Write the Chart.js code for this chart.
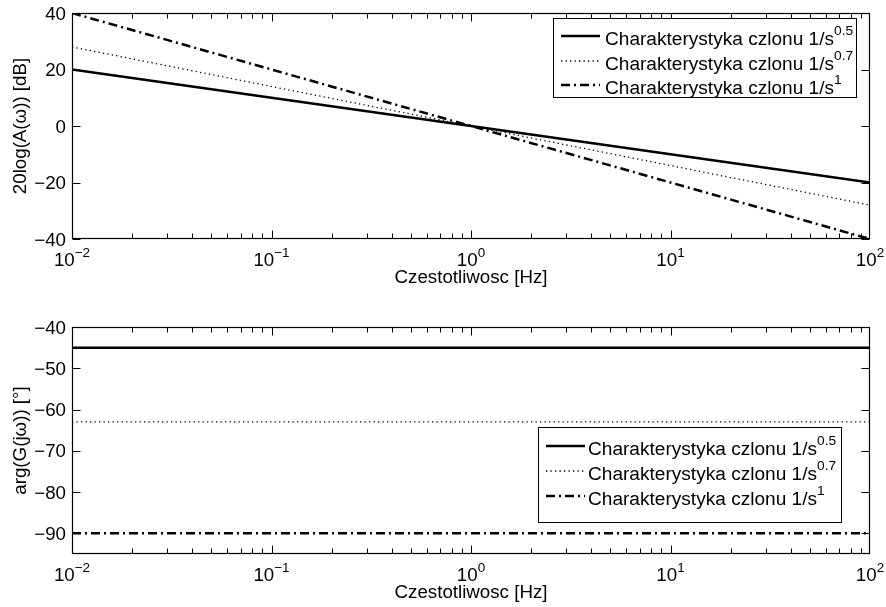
<!DOCTYPE html>
<html>
<head>
<meta charset="utf-8">
<script src="https://cdn.jsdelivr.net/npm/chart.js@4/dist/chart.umd.min.js"></script>
<style>
  html, body { margin: 0; padding: 0; background: #ffffff; }
  #wrap { position: relative; width: 886px; height: 607px; }
  canvas { position: absolute; left: 0; top: 0; }
</style>
</head>
<body>
<div id="wrap">
  <canvas id="c1" width="886" height="607"></canvas>
  <canvas id="c2" width="886" height="607"></canvas>
</div>
<script>
// ---------- data ----------
const freq = [0.01, 0.1, 1, 10, 100];
const mag05 = [20, 10, 0, -10, -20];
const mag07 = [28, 14, 0, -14, -28];
const mag1 = [40, 20, 0, -20, -40];
const phase05 = [-45, -45, -45, -45, -45];
const phase07 = [-63, -63, -63, -63, -63];
const phase1 = [-90, -90, -90, -90, -90];
const xTickValues = [0.01, 0.1, 1, 10, 100];
const xTickBase = ['10', '10', '10', '10', '10'];
const xTickExp = ['\u22122', '\u22121', '0', '1', '2'];
const magTicks = [-40, -20, 0, 20, 40];
const phaseTicks = [-90, -80, -70, -60, -50, -40];
const seriesBase = ['Charakterystyka czlonu 1/s', 'Charakterystyka czlonu 1/s', 'Charakterystyka czlonu 1/s'];
const seriesExp = ['0.5', '0.7', '1'];
const xAxisTitle = 'Czestotliwosc [Hz]';
const magTitle = '20log(A(\u03c9)) [dB]';
const phaseTitle = 'arg(G(j\u03c9)) [\u00b0]';

// ---------- styles ----------
const FONT = '"Liberation Sans", Arial, Helvetica, sans-serif';
const FS = 18;
const SUPFS = 13;
const SX = 1.04;
const styles = [
  { borderWidth: 2.5, borderDash: [] },
  { borderWidth: 1.3, borderDash: [1.3, 3.2] },
  { borderWidth: 2.5, borderDash: [9, 4, 2, 4] }
];

function fmtNum(v) { return v < 0 ? '\u2212' + Math.abs(v) : String(v); }

function drawText(ctx, s, x, y, size, align, sx) {
  ctx.save();
  ctx.font = size + 'px ' + FONT;
  ctx.fillStyle = '#000';
  ctx.textBaseline = 'alphabetic';
  ctx.translate(x, y);
  ctx.scale(sx, 1);
  ctx.textAlign = align;
  ctx.fillText(s, 0, 0);
  ctx.restore();
}

function drawSup(ctx, base, sup, x, y, size, supSize, raise, align, sx) {
  ctx.save();
  ctx.font = size + 'px ' + FONT;
  const w1 = ctx.measureText(base).width;
  ctx.font = supSize + 'px ' + FONT;
  const w2 = ctx.measureText(sup).width;
  const total = (w1 + w2) * sx;
  let start = x;
  if (align === 'center') start = x - total / 2;
  else if (align === 'right') start = x - total;
  ctx.fillStyle = '#000';
  ctx.textBaseline = 'alphabetic';
  ctx.textAlign = 'left';
  ctx.translate(start, y);
  ctx.scale(sx, 1);
  ctx.font = size + 'px ' + FONT;
  ctx.fillText(base, 0, 0);
  ctx.font = supSize + 'px ' + FONT;
  ctx.fillText(sup, w1, -raise);
  ctx.restore();
}

function makeAxesPlugin(opts) {
  return {
    id: 'matlabAxes',
    afterDatasetsDraw(chart) {
      const ctx = chart.ctx;
      const a = chart.chartArea;
      const xs = chart.scales.x, ys = chart.scales.y;
      const L = Math.round(a.left) + 0.5, R = Math.round(a.right) - 0.5;
      const T = Math.round(a.top) + 0.5, B = Math.round(a.bottom) - 0.5;
      ctx.save();
      ctx.strokeStyle = '#000';
      ctx.lineWidth = 1;
      ctx.beginPath();
      for (let d = -2; d < 2; d++) {
        for (let m = 1; m <= 9; m++) {
          const v = m * Math.pow(10, d);
          const px = Math.round(xs.getPixelForValue(v)) + 0.5;
          const len = m === 1 ? 8 : 5;
          ctx.moveTo(px, B); ctx.lineTo(px, B - len);
          ctx.moveTo(px, T); ctx.lineTo(px, T + len);
        }
      }
      opts.yTicks.forEach(v => {
        const py = Math.round(ys.getPixelForValue(v)) + 0.5;
        ctx.moveTo(L, py); ctx.lineTo(L + 8, py);
        ctx.moveTo(R, py); ctx.lineTo(R - 8, py);
      });
      ctx.stroke();
      ctx.lineWidth = 1.2;
      ctx.strokeRect(L, T, R - L, B - T);
      ctx.restore();

      opts.yTicks.forEach(v => {
        const py = ys.getPixelForValue(v);
        drawText(ctx, fmtNum(v), 66, py + 6.5, FS, 'right', SX);
      });
      xTickValues.forEach((v, i) => {
        const px = xs.getPixelForValue(v);
        drawSup(ctx, xTickBase[i], xTickExp[i], px, a.bottom + opts.tickDy, FS, SUPFS, 9, 'center', SX);
      });
      drawText(ctx, xAxisTitle, (a.left + a.right) / 2, a.bottom + opts.titleDy, FS, 'center', SX);
      ctx.save();
      ctx.font = FS + 'px ' + FONT;
      ctx.fillStyle = '#000';
      ctx.translate(26, (a.top + a.bottom) / 2);
      ctx.rotate(-Math.PI / 2);
      ctx.scale(SX, 1);
      ctx.textAlign = 'center';
      ctx.textBaseline = 'alphabetic';
      ctx.fillText(opts.yTitle, 0, 0);
      ctx.restore();

      const lg = opts.legend;
      ctx.save();
      ctx.fillStyle = '#fff';
      ctx.fillRect(lg.x, lg.y, lg.w, lg.h);
      ctx.strokeStyle = '#000';
      ctx.lineWidth = 1;
      ctx.strokeRect(lg.x + 0.5, lg.y + 0.5, lg.w, lg.h);
      chart.data.datasets.forEach((ds, i) => {
        const by = lg.baselines[i];
        const ly = by - lg.lineOff;
        ctx.save();
        ctx.strokeStyle = '#000';
        ctx.lineWidth = ds.borderWidth;
        ctx.setLineDash(ds.borderDash || []);
        ctx.beginPath();
        ctx.moveTo(lg.x + 8, ly);
        ctx.lineTo(lg.x + 47, ly);
        ctx.stroke();
        ctx.restore();
        drawSup(ctx, seriesBase[i], seriesExp[i], lg.x + lg.textOff, by, FS, SUPFS, 10, 'left', 1.06);
      });
      ctx.restore();
    }
  };
}

function makeChart(id, ys, pad, ymin, ymax, plugin) {
  return new Chart(document.getElementById(id), {
    type: 'line',
    data: {
      datasets: ys.map((arr, i) => ({
        data: freq.map((f, k) => ({ x: f, y: arr[k] })),
        borderColor: '#000',
        backgroundColor: '#000',
        borderWidth: styles[i].borderWidth,
        borderDash: styles[i].borderDash,
        pointRadius: 0,
        fill: false,
        tension: 0
      }))
    },
    options: {
      responsive: false,
      animation: false,
      layout: { padding: pad },
      scales: {
        x: { type: 'logarithmic', min: 0.01, max: 100, display: false },
        y: { type: 'linear', min: ymin, max: ymax, display: false }
      },
      plugins: { legend: { display: false }, tooltip: { enabled: false } }
    },
    plugins: [plugin]
  });
}

makeChart('c1', [mag05, mag07, mag1],
  { left: 72, top: 13, right: 16, bottom: 607 - 239 }, -40, 40,
  makeAxesPlugin({
    yTicks: magTicks, yTitle: magTitle, tickDy: 27, titleDy: 44,
    legend: { x: 553, y: 18, w: 303, h: 79, baselines: [45, 70, 94], lineOff: 9, textOff: 52 }
  }));

makeChart('c2', [phase05, phase07, phase1],
  { left: 72, top: 327, right: 16, bottom: 607 - 554 }, -95, -40,
  makeAxesPlugin({
    yTicks: phaseTicks, yTitle: phaseTitle, tickDy: 27, titleDy: 44,
    legend: { x: 538, y: 427, w: 303, h: 95, baselines: [455, 480, 505], lineOff: 9, textOff: 50 }
  }));
</script>
</body>
</html>
